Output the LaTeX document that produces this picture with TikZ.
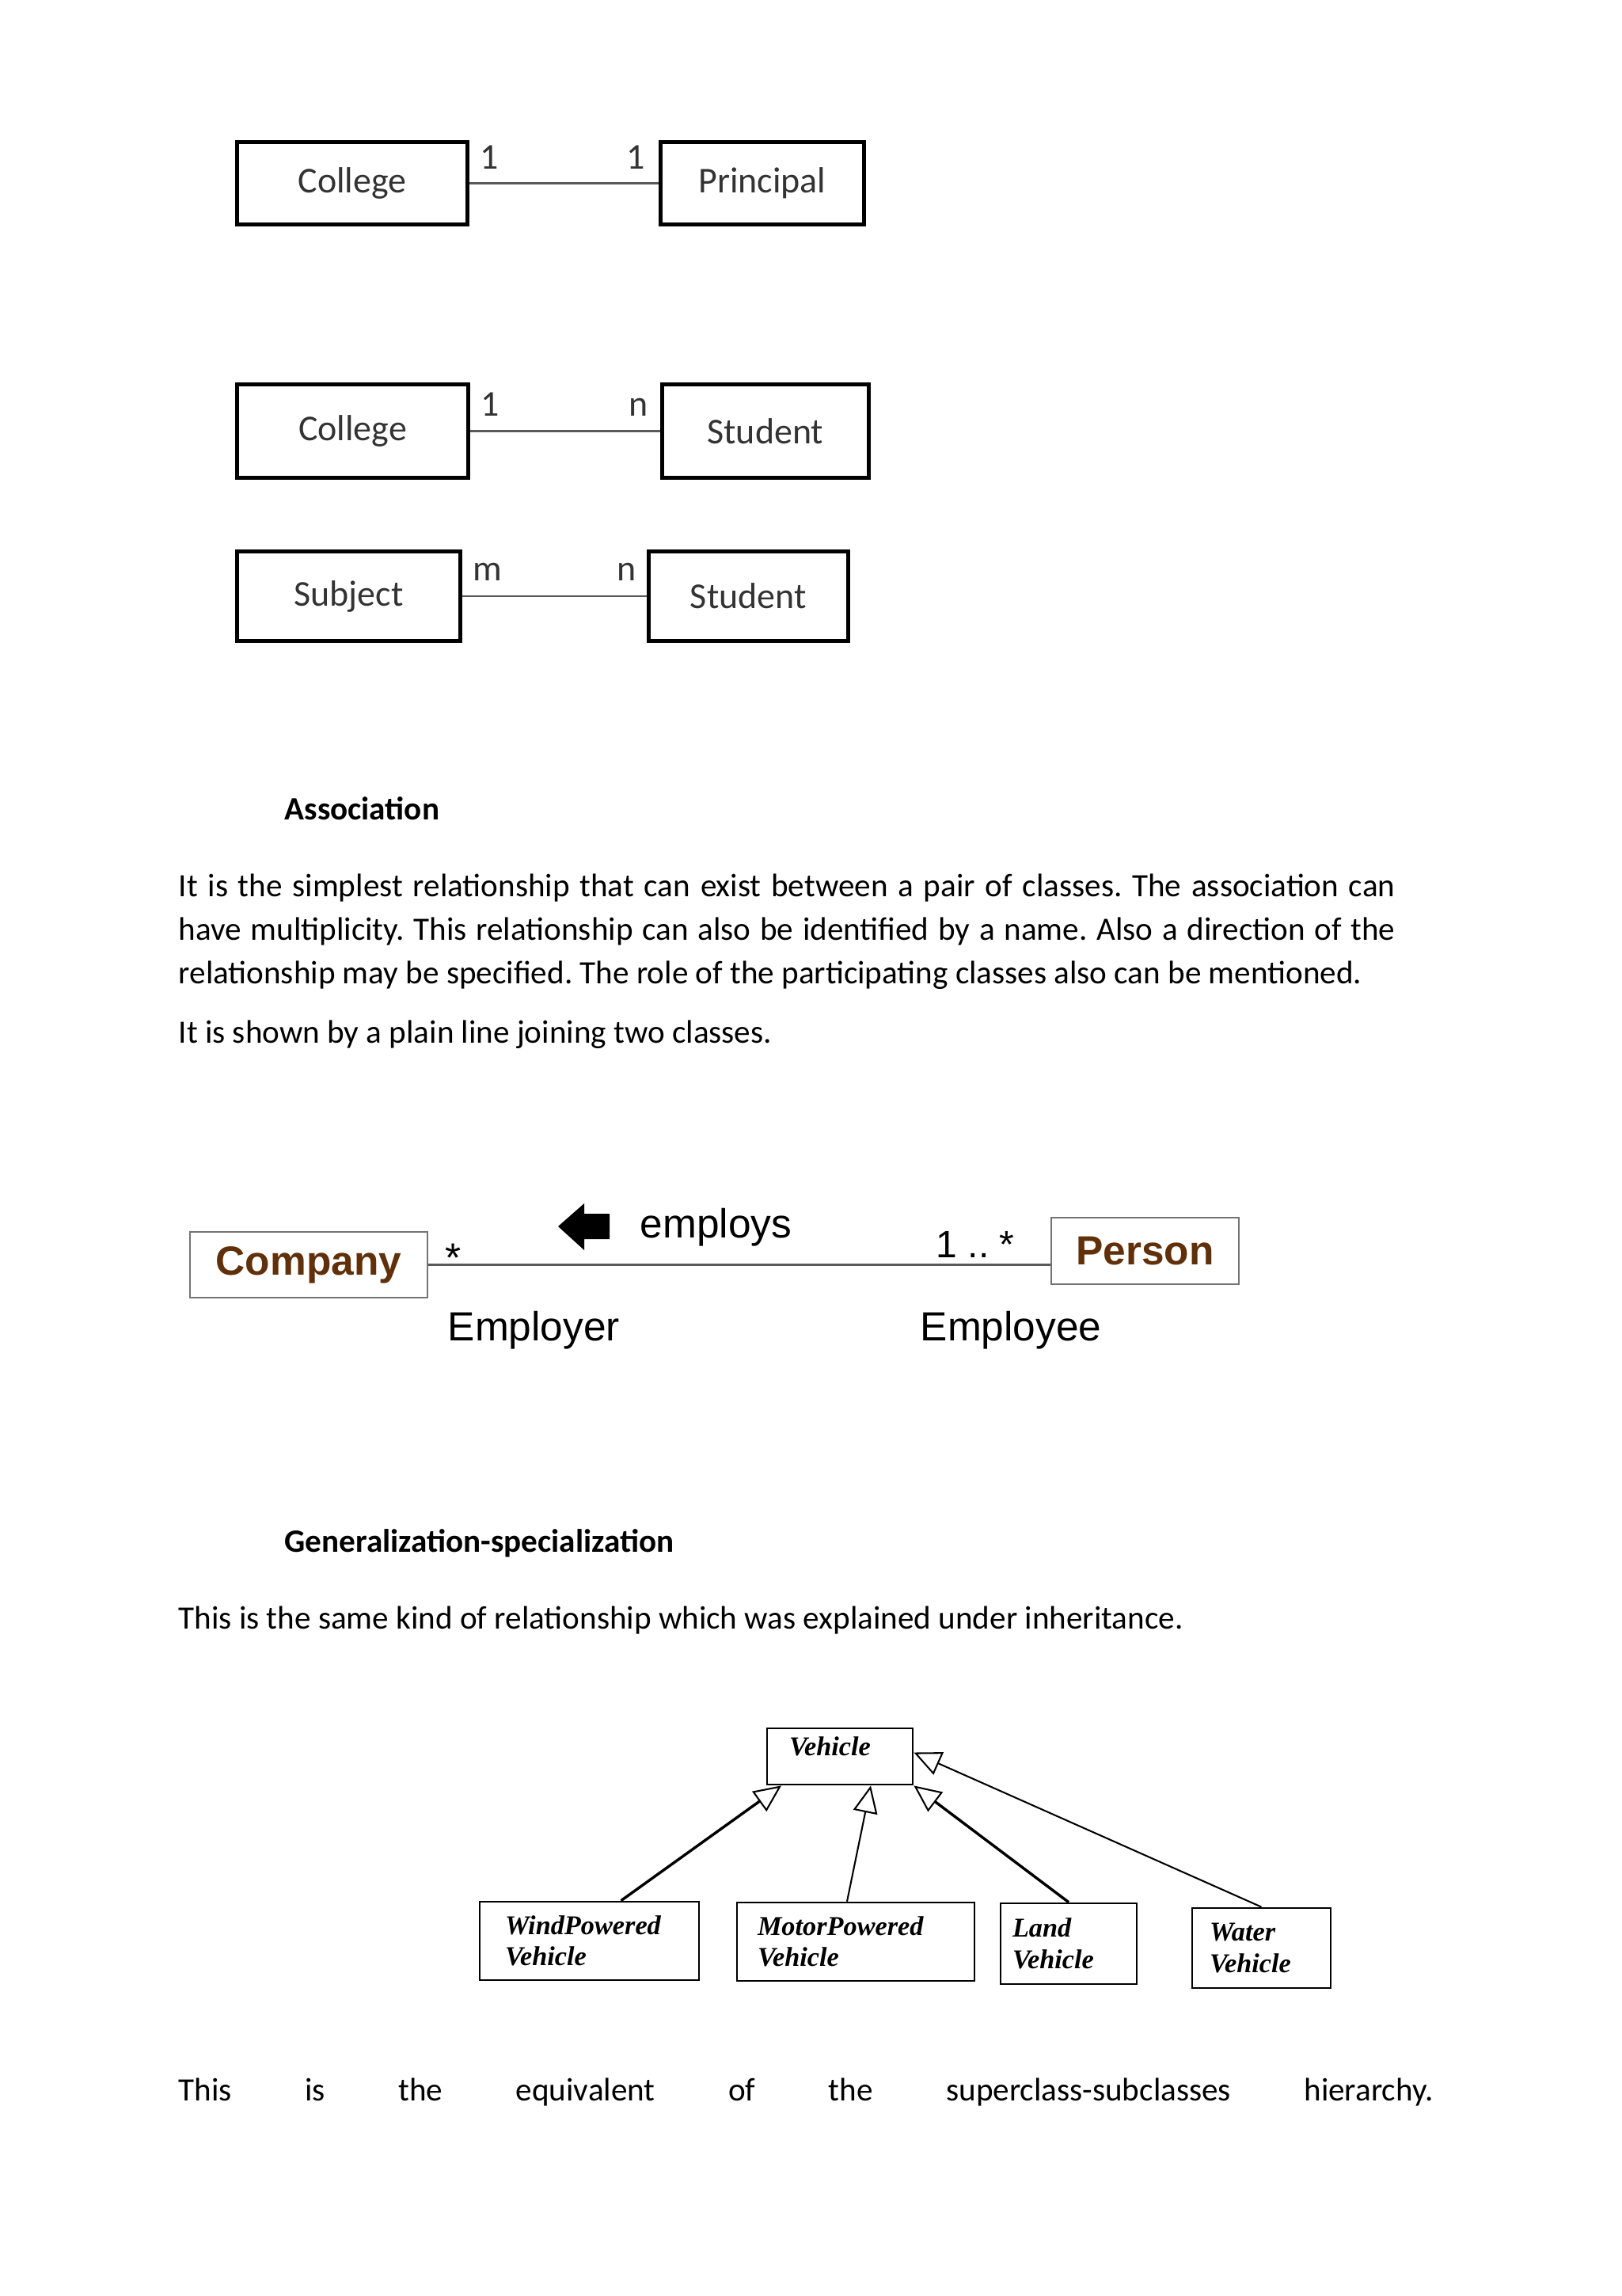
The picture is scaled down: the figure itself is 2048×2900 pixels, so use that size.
\documentclass[tikz,border=0pt]{standalone}
\usepackage{fontspec}
\setmainfont{Carlito}
\newfontfamily\arialfont{Liberation Sans}
\newfontfamily\timesfont{Liberation Serif}
\usetikzlibrary{positioning,arrows.meta}
\definecolor{umlbrown}{RGB}{96,48,10}
\newlength\pxu
\setlength\pxu{0.1025mm}
\frenchspacing

\tikzset{
  cls/.style={draw, line width=1.4pt, inner sep=0pt, text=black!80,
    font=\fontsize{13.4}{16}\selectfont},
  mult/.style={anchor=base west, inner sep=0pt, text=black!80,
    font=\fontsize{13.4}{16}\selectfont},
  assoc/.style={draw=black!65, line width=0.7pt},
  txt/.style={anchor=base west, inner sep=0pt, font=\fontsize{12}{14}\selectfont},
  head/.style={txt, font=\fontsize{12}{14}\selectfont\bfseries},
  ent/.style={draw=black!55, line width=0.6pt, inner sep=0pt, text=umlbrown,
    font=\arialfont\bfseries\fontsize{15}{18}\selectfont},
  role/.style={anchor=base west, inner sep=0pt,
    font=\arialfont\fontsize{15}{18}\selectfont},
  vcls/.style={draw, line width=0.8pt, inner ysep=0pt, align=left,
    font=\timesfont\bfseries\itshape\fontsize{10}{11.5}\selectfont},
  isa/.style={-{Triangle[open,length=10pt,width=9pt,line width=0.6pt]}}
}

\begin{document}
\begin{tikzpicture}[x=\pxu, y=-\pxu]
  \useasboundingbox (0,0) rectangle (2048,2900);

  \node (C1) [cls, minimum width=291\pxu, minimum height=104\pxu] at (445,231.5) {College};
  \node (P1) [cls, minimum width=257\pxu, minimum height=104\pxu, right=239\pxu of C1] {Principal};
  \node (C2) [cls, minimum width=292\pxu, minimum height=118\pxu] at (445.5,544.5) {College};
  \node (S1) [cls, minimum width=261\pxu, minimum height=118\pxu, right=240\pxu of C2] {Student};
  \node (Sub) [cls, minimum width=282\pxu, minimum height=113\pxu] at (440.5,753) {Subject};
  \node (S2) [cls, minimum width=252\pxu, minimum height=113\pxu, right=233\pxu of Sub] {Student};

  \node (m1a) [mult] at (606,214) {1};
  \node (m1b) [mult] at (791,214) {1};
  \node (m2a) [mult] at (607,525) {1};
  \node (m2b) [mult] at (794,525) {n};
  \node (m3a) [mult] at (597,733) {m};
  \node (m3b) [mult] at (779,733) {n};

  \path[assoc]
    (C1) edge (P1)
    (C2) edge (S1)
    (Sub) edge (S2);

  \node (hAs) [head] at (359,1035) {Association};
  \node (L1) [txt] at (225,1132) {\makebox[1537\pxu][s]{It is the simplest relationship that can exist between a pair of classes. The association can}};
  \node (L2) [txt] at (225,1187) {\makebox[1537\pxu][s]{have multiplicity. This relationship can also be identified by a name. Also a direction of the}};
  \node (L3) [txt] at (225,1242) {relationship may be specified. The role of the participating classes also can be mentioned.};
  \node (L4) [txt] at (225,1317) {It is shown by a plain line joining two classes.};

  \node (Comp) [ent, minimum width=300\pxu, minimum height=83\pxu] at (390,1597.5) {Company};
  \node (Pers) [ent, minimum width=237\pxu, minimum height=84\pxu] at (1446.5,1580) {Person};
  \path[assoc] (Comp) edge (Comp.east -| Pers.west);
  \node (star) [role, anchor=base] at (573,1606) {*};
  \node (many) [role, font=\arialfont\fontsize{14}{17}\selectfont] at (1182,1588) {1 .. *};
  \node (emp) [role] at (808,1563) {employs};
  \node (Er) [role] at (565,1693) {Employer};
  \node (Ee) [role] at (1162,1693) {Employee};
  \fill (705,1549) -- (738,1520) -- (738,1533) -- (770,1533) -- (770,1565)
    -- (738,1565) -- (738,1579) -- cycle;

  \node (hGs) [head] at (359,1960) {Generalization-specialization};
  \node (G1) [txt] at (225,2057) {This is the same kind of relationship which was explained under inheritance.};

  \node (Veh) [vcls, minimum width=184\pxu, minimum height=71\pxu, inner xsep=28\pxu,
    text width=128\pxu, text depth=26\pxu] at (1061,2218.5) {Vehicle};
  \node (Wind) [vcls, minimum width=277\pxu, minimum height=99\pxu, inner xsep=32\pxu,
    text width=213\pxu] at (744.5,2451.5) {WindPowered\\Vehicle};
  \node (Motor) [vcls, minimum width=300\pxu, minimum height=99\pxu, inner xsep=26\pxu,
    text width=248\pxu] at (1081,2452.5) {MotorPowered\\Vehicle};
  \node (Land) [vcls, minimum width=172\pxu, minimum height=102\pxu, inner xsep=15\pxu,
    text width=142\pxu] at (1350,2455) {Land\\Vehicle};
  \node (Water) [vcls, minimum width=175\pxu, minimum height=101\pxu, inner xsep=22\pxu,
    text width=131\pxu] at (1593.5,2460.5) {Water\\Vehicle};

  \path[isa, line width=1pt]
    ([xshift=40\pxu]Wind.north) edge ([xshift=-74\pxu]Veh.south)
    (Land.north) edge (Veh.south east);
  \path[isa, line width=0.6pt]
    ([xshift=-11\pxu]Motor.north) edge ([xshift=39\pxu]Veh.south)
    (Water.north) edge ([yshift=5\pxu]Veh.east);

  \node (L5) [txt] at (225,2653) {\makebox[1585\pxu][s]{This is the equivalent of the superclass-subclasses hierarchy.}};
\end{tikzpicture}
\end{document}
